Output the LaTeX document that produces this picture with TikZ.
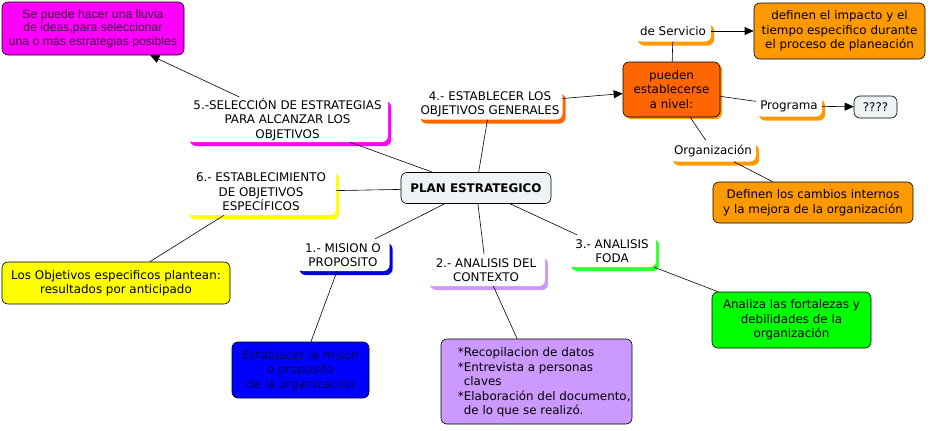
\documentclass[tikz,border=0pt]{standalone}
\usepackage{fontspec}
\setmainfont{DejaVu Sans}
\newfontfamily\arialfont{Liberation Sans}
\usetikzlibrary{arrows.meta,shadows}
\definecolor{cmag}{HTML}{FF00FF}
\definecolor{cred}{HTML}{FF6600}
\definecolor{camb}{HTML}{FF9900}
\definecolor{cyel}{HTML}{FFFF00}
\definecolor{cgrn}{HTML}{00FF00}
\definecolor{cgrs}{HTML}{33FF33}
\definecolor{cblu}{HTML}{0000FF}
\definecolor{cbls}{HTML}{0000DD}
\definecolor{clav}{HTML}{CC99FF}
\definecolor{cgry}{HTML}{EEF3F5}
\definecolor{cdpur}{HTML}{3A003A}
\definecolor{cnavy}{HTML}{000050}
\begin{document}
\begin{tikzpicture}[x=1pt,y=-1pt,
  every node/.style={font=\fontsize{11.9}{14.5}\selectfont, align=center, inner sep=0pt},
  box/.style={draw=black, line width=0.6pt, rounded corners=6pt, fill=#1},
  lab/.style={fill=white, rounded corners=6pt,
    drop shadow={shadow xshift=3pt, shadow yshift=-4pt, fill=#1, opacity=1}},
  conn/.style={line width=0.6pt},
  arr/.style={conn, -{Triangle[length=9pt,width=8pt]}}
]
\fill[white] (0,0) rectangle (932,431);
\useasboundingbox (0,0) rectangle (932,431);

% central node
\node[box=cgry, minimum width=150pt, minimum height=31pt, font=\fontsize{11.9}{14.5}\selectfont\bfseries] (plan) at (476,188) {PLAN ESTRATEGICO};

% first-level labels
\node[lab=cmag, minimum width=201pt, minimum height=45pt] (s5) at (287.5,119.5)
  {5.-SELECCIÓN DE ESTRATEGIAS\\PARA ALCANZAR LOS\\OBJETIVOS};
\node[lab=cred, minimum width=145pt, minimum height=30pt] (s4) at (490,104.5)
  {4.- ESTABLECER LOS\\OBJETIVOS GENERALES};
\node[lab=cyel, minimum width=150pt, minimum height=46pt] (s6) at (261,192)
  {6.- ESTABLECIMIENTO\\DE OBJETIVOS\\ESPECÍFICOS};
\node[lab=cbls, minimum width=93pt, minimum height=32pt] (s1) at (343,255)
  {1.- MISION O\\PROPOSITO};
\node[lab=clav, minimum width=118pt, minimum height=32pt] (s2) at (486,270)
  {2.- ANALISIS DEL\\CONTEXTO};
\node[lab=cgrs, minimum width=88pt, minimum height=32pt] (s3) at (612,251)
  {3.- ANALISIS\\FODA};

% content boxes
\node[box=cmag, minimum width=182pt, minimum height=53pt, text=cdpur,
  font=\arialfont\fontsize{12.2}{13.5}\selectfont] (mag) at (93,28.5)
  {Se puede hacer una lluvia\\de ideas,para seleccionar\\una o más estrategias posibles};
\node[box=cyel, minimum width=228pt, minimum height=42pt] (yel) at (116,283)
  {Los Objetivos especificos plantean:\\resultados por anticipado};
\node[box=cblu, minimum width=137pt, minimum height=56pt, text=cnavy] (blu) at (300.5,370)
  {Establecer la misón\\o proposito\\de la organización};
\node[box=clav, minimum width=191pt, minimum height=85pt] (lav) at (536.5,381.5) {};
\node[align=left, anchor=west] (lavt) at ([xshift=17pt,yshift=-1pt]lav.west)
  {*Recopilacion de datos\\*Entrevista a personas\\\hphantom{*}claves\\*Elaboración del documento,\\\hphantom{*}de lo que se realizó.};
\node[box=cgrn, minimum width=159pt, minimum height=56pt] (grn) at (791.5,320)
  {Analiza las fortalezas y\\debilidades de la\\organización};

% top-right cluster
\node[box=cred, minimum width=97pt, minimum height=55pt,
  drop shadow={shadow xshift=2pt, shadow yshift=-2pt, fill=camb, opacity=1}] (pue) at (671.5,89.5)
  {pueden\\establecerse\\a nivel:};
\node[lab=camb, minimum width=76pt, minimum height=21pt] (serv) at (673,31) {de Servicio};
\node[box=camb, minimum width=171pt, minimum height=56pt] (def1) at (839.5,31)
  {definen el impacto y el\\tiempo especifico durante\\el proceso de planeación};
\node[lab=camb, minimum width=66pt, minimum height=21pt] (prog) at (789,106) {Programa};
\node[box=cgry, minimum width=43pt, minimum height=22pt] (qq) at (875.5,107) {????};
\node[lab=camb, minimum width=86pt, minimum height=21pt] (org) at (713,151) {Organización};
\node[box=camb, minimum width=200pt, minimum height=41pt] (def2) at (813,202.5)
  {Definen los cambios internos\\y la mejora de la organización};

% connectors
\draw[conn] (plan) -- (s5);
\draw[conn] (plan) -- (s4);
\draw[conn] (plan) -- (s6);
\draw[conn] (plan) -- (s1);
\draw[conn] (plan) -- (s2);
\draw[conn] (plan) -- (s3);
\draw[arr] (s5) -- (mag);
\draw[arr] (s4) -- (pue);
\draw[conn] (s6) -- (yel);
\draw[conn] (s1) -- (blu);
\draw[conn] (s2) -- (lav);
\draw[conn] (s3) -- (grn);
\draw[conn] (pue) -- (serv);
\draw[conn] (pue) -- (prog);
\draw[conn] (pue) -- (org);
\draw[arr] (serv) -- (def1);
\draw[arr] (prog) -- (qq);
\draw[conn] (org) -- (def2);
\end{tikzpicture}
\end{document}
